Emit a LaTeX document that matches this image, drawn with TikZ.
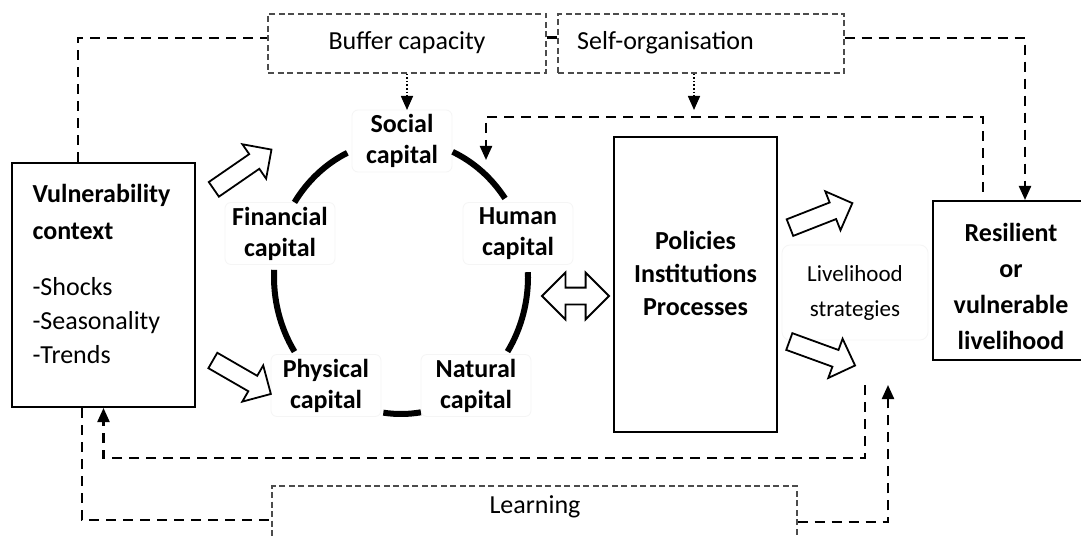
\documentclass[tikz,border=0pt]{standalone}
\usepackage{fontspec}
\setmainfont{Carlito}
\usetikzlibrary{shapes.arrows,arrows.meta}
\begin{document}
\begin{tikzpicture}[x=1pt,y=-1pt,
  conn/.style={line width=2.2pt, dash pattern=on 10pt off 7pt},
  dotc/.style={line width=1.6pt, dash pattern=on 1.6pt off 2pt},
  tipc/.style={-{Triangle[width=12pt,length=14pt]}},
  fbox/.style={draw=black!70, line width=1.3pt, dash pattern=on 6pt off 3.5pt, inner sep=0pt},
  sbox/.style={draw, line width=2pt, inner sep=0pt},
  capbox/.style={draw=black!4, rounded corners=6pt, line width=0.8pt, align=center,
    font=\bfseries\fontsize{26}{31}\selectfont, minimum width=110pt, minimum height=62pt, inner sep=0pt},
  txt/.style={font=\fontsize{26}{33}\selectfont},
  btxt/.style={font=\bfseries\fontsize{26}{33}\selectfont, align=center},
  harrow/.style={single arrow, draw, fill=white, line width=1.8pt, inner xsep=0pt, inner ysep=8pt,
    single arrow head extend=12pt, single arrow tip angle=90},
  darrow/.style={double arrow, draw, fill=white, line width=1.8pt, inner xsep=0pt, inner ysep=7.5pt,
    double arrow head extend=15pt, double arrow tip angle=90}
]
\clip (0,0) rectangle (1081,537);
\fill[white] (0,0) rectangle (1081,537);

% boxes
\node[sbox, minimum width=183pt, minimum height=244pt] (vuln) at (103.5,285) {};
\node[sbox, minimum width=163pt, minimum height=295pt] (pol) at (695.5,284.5) {};
\node[sbox, minimum width=156pt, minimum height=159pt] (resil) at (1011,280.5) {};
\node[fbox, minimum width=278pt, minimum height=59pt] (buffer) at (407,43.5) {};
\node[fbox, minimum width=286pt, minimum height=59pt] (selforg) at (701,43.5) {};
\node[fbox, minimum width=525pt, minimum height=84pt] (learn) at (534.5,528) {};

% texts
\node[txt] (buffertxt) at (407,43) {Buffer capacity};
\node[txt] (selforgtxt) at (665.5,43) {Self-organisation};
\node[txt] (learntxt) at (535,507) {Learning};
\node[btxt, anchor=west, align=left, font=\bfseries\fontsize{26}{37}\selectfont] (vulntitle) at (29,211.5) {Vulnerability\\context};
\node[txt, anchor=west, align=left, font=\fontsize{26}{34}\selectfont] (vulnlist) at (29,321) {-Shocks\\-Seasonality\\-Trends};
\node[btxt] (poltxt) at (695.5,273) {Policies\\Institutions\\Processes};
\node[btxt, font=\bfseries\fontsize{26}{36}\selectfont] (resiltxt) at (1011,286) {Resilient\\or\\vulnerable\\livelihood};
\node[draw=black!4, rounded corners=8pt, line width=0.8pt, align=center, minimum width=146pt, minimum height=95pt,
  font=\fontsize{23}{35}\selectfont] (liv) at (855,292.5) {Livelihood\\strategies};

% capitals
\node[capbox, minimum width=100pt] (social) at (402,141) {Social\\capital};
\node[capbox] (fin) at (280,233.5) {Financial\\capital};
\node[capbox] (hum) at (518,233.5) {Human\\capital};
\node[capbox] (phys) at (326,385.5) {Physical\\capital};
\node[capbox] (nat) at (476,385.5) {Natural\\capital};

% ring arcs
\coordinate (C) at (401,277);
\foreach \a/\b in {115/147, 35/66, 177/213, -33/2, 262/279}{
  \draw[line width=6pt] (C) ++(-\a:127 and 137) arc[start angle=-\a, end angle=-\b, x radius=127, y radius=137];
}

% hollow arrows
\node[harrow, minimum height=70pt, rotate=34.6] (a1) at (239,172) {};
\node[harrow, minimum height=67pt, rotate=-30] (a2) at (238,375) {};
\node[harrow, minimum height=67pt, rotate=21.4] (a4) at (817,217) {};
\node[harrow, minimum height=70pt, rotate=-20] (a5) at (818,352) {};
\node[darrow, minimum height=67pt] (a3) at (575.5,296) {};

% dashed connectors
\coordinate (htop) at (486,117);
\coordinate (htip) at (486,160);
\coordinate (ls1) at (865,385);
\coordinate (ls2) at (888,385);
\draw[conn] ([xshift=-25.5pt]vuln.north) |- ([yshift=5.5pt]buffer.west);
\draw[conn] ([yshift=6pt]buffer.east) -- ([yshift=6pt]selforg.west);
\draw[conn,tipc] ([yshift=5.5pt]selforg.east) -| ([xshift=14pt]resil.north);
\draw[conn,tipc] ([xshift=-28pt,yshift=8pt]resil.north) |- (htop) -- (htip);
\draw[conn,tipc] (ls1) |- ([yshift=-50pt]vuln.south) -- (vuln.south);
\draw[conn] ([xshift=-21.5pt]vuln.south) |- ([yshift=8pt]learn.west);
\draw[conn,tipc] ([yshift=6pt]learn.east) -| (ls2);

% dotted arrows
\coordinate (bt) at (407,110);
\coordinate (st) at (694,110);
\draw[dotc,tipc] (buffer.south) -- (bt);
\draw[dotc,tipc] ([xshift=-7pt]selforg.south) -- (st);
\end{tikzpicture}
\end{document}
